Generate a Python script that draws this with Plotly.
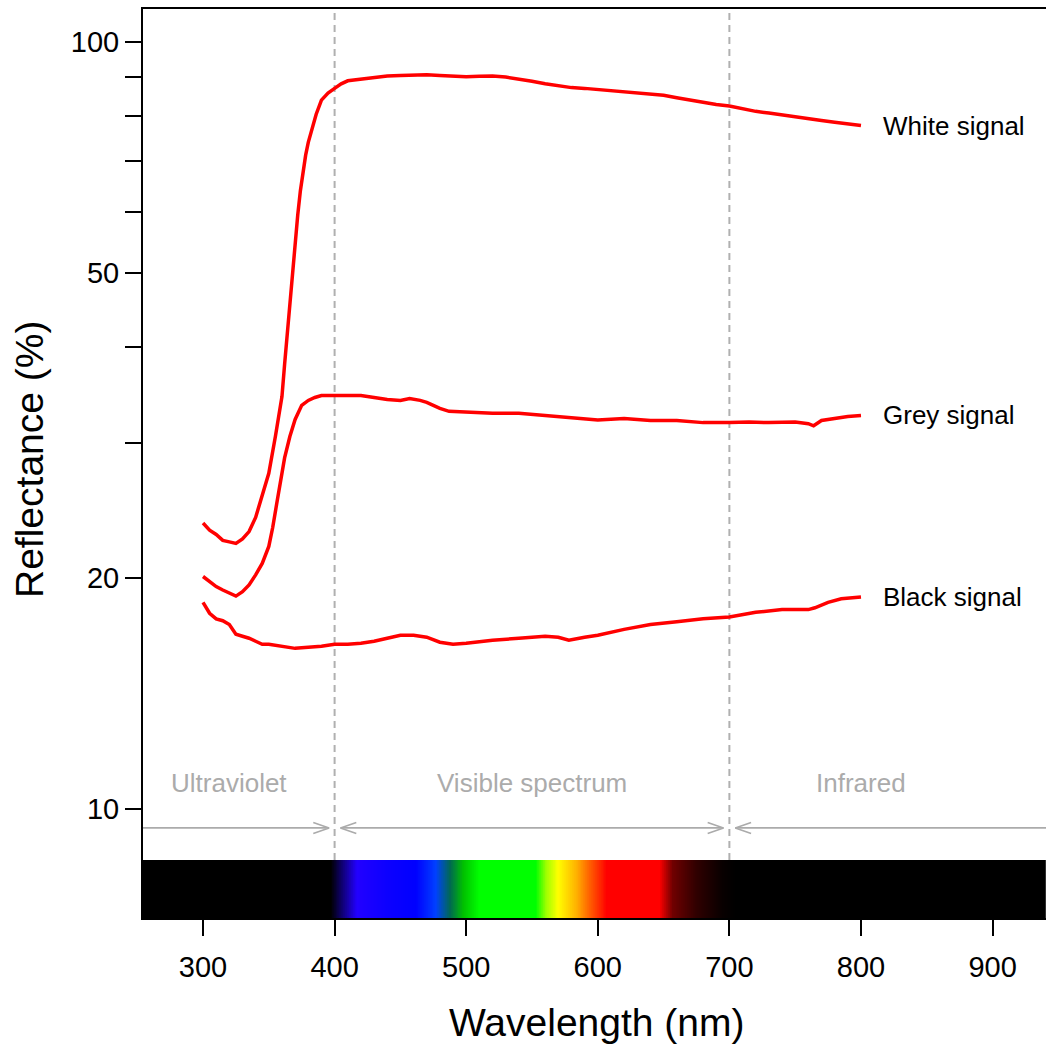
import numpy as np
import plotly.graph_objects as go

# ---------------- data ----------------
white_wl = [300, 305, 310, 315, 320, 325, 330, 335, 340, 345, 350, 355, 360, 362, 364, 366, 368,
            370, 372, 374, 376, 378, 380, 383, 386, 390, 395, 400, 405, 410, 420, 430, 440, 450,
            460, 470, 480, 490, 500, 510, 520, 530, 540, 550, 560, 570, 580, 590, 600, 610, 620,
            630, 640, 650, 660, 670, 680, 690, 700, 710, 720, 730, 740, 750, 760, 770, 780, 790, 800]
white_val = [23.6, 23.1, 22.8, 22.4, 22.3, 22.2, 22.5, 23.0, 24.0, 25.6, 27.4, 30.6, 34.5, 38.0,
             41.8, 46.0, 50.5, 55.0, 59.5, 64.0, 68.0, 71.2, 74.0, 77.5, 80.5, 84.0, 85.8, 87.0,
             88.2, 89.0, 89.4, 90.0, 90.3, 90.4, 90.5, 90.6, 90.4, 90.2, 90.1, 90.2, 90.3, 90.0,
             89.5, 88.9, 88.2, 87.6, 87.2, 87.0, 86.7, 86.3, 86.0, 85.8, 85.5, 85.2, 84.6, 84.0,
             83.4, 82.9, 82.5, 81.8, 81.2, 80.8, 80.3, 79.9, 79.4, 79.0, 78.6, 78.3, 77.8]

grey_wl = [300, 305, 310, 315, 320, 325, 330, 335, 340, 345, 350, 353, 356, 359, 362, 366, 370,
           375, 380, 385, 390, 400, 410, 420, 430, 440, 450, 457, 465, 470, 475, 480, 487, 500,
           520, 540, 560, 580, 600, 620, 640, 660, 680, 700, 715, 730, 750, 760, 764, 770, 780,
           790, 800]
grey_val = [20.1, 19.8, 19.5, 19.3, 19.1, 18.95, 19.2, 19.6, 20.2, 20.9, 22.0, 23.3, 25.0, 26.9,
            28.7, 30.6, 32.2, 33.6, 34.1, 34.4, 34.6, 34.6, 34.6, 34.6, 34.4, 34.2, 34.1, 34.3,
            34.1, 33.9, 33.6, 33.3, 33.0, 32.9, 32.8, 32.8, 32.6, 32.35, 32.15, 32.3, 32.1, 32.1,
            31.9, 31.9, 31.95, 31.9, 31.95, 31.8, 31.6, 32.1, 32.3, 32.5, 32.6]

black_wl = [300, 305, 310, 315, 320, 325, 330, 335, 340, 345, 350, 360, 370, 380, 390, 400, 410,
            420, 430, 440, 450, 460, 470, 480, 490, 500, 520, 540, 560, 570, 578, 590, 600, 620,
            640, 660, 680, 700, 720, 740, 760, 765, 775, 785, 800]
black_val = [18.6, 18.0, 17.7, 17.6, 17.4, 16.9, 16.8, 16.7, 16.55, 16.4, 16.4, 16.3, 16.2, 16.25,
             16.3, 16.4, 16.4, 16.45, 16.55, 16.7, 16.85, 16.85, 16.75, 16.5, 16.4, 16.45, 16.6,
             16.7, 16.8, 16.75, 16.6, 16.75, 16.85, 17.15, 17.4, 17.55, 17.7, 17.8, 18.05, 18.2,
             18.2, 18.3, 18.6, 18.8, 18.9]

series_names = ["White signal", "Grey signal", "Black signal"]

x_tickvals = [300, 400, 500, 600, 700, 800, 900]
y_tickvals = [10, 20, 30, 40, 50, 60, 70, 80, 90, 100]
y_ticktext = ["10", "20", "", "", "50", "", "", "", "", "100"]

region_names = ["Ultraviolet", "Visible spectrum", "Infrared"]
region_centers = [320, 550, 800]
region_starts = [254.4, 404.5, 704.5]
region_ends = [395.8, 695.5, 940.6]
region_head_left = [False, True, True]
region_head_right = [True, True, False]
region_borders = [400, 700]

spectrum_nm = [254.4, 397, 417, 440, 462, 477, 488, 498, 510, 553, 561, 570, 584, 594, 607,
               647, 657, 675, 695, 705, 940.6]
spectrum_colors = ["#000000", "#000000", "#2200ff", "#0c00ff", "#0000ff", "#0040ff", "#006a50",
                   "#00c000", "#00ff00", "#00ff00", "#a0ff00", "#ffff00", "#ffb000", "#ff6000",
                   "#ff0000", "#ff0000", "#700000", "#300000", "#080000", "#000000", "#000000"]

# ---------------- layout constants ----------------
W, H = 1046, 1046
ML, MR, MT, MB = 143, 0, 9, 128
XR = [254.4, 940.6]
YR = [0.858, 2.043]
BAR_FRAC = 58 / 909
FONT = "Liberation Sans, Arial, sans-serif"
GREY = "#ababab"

fig = go.Figure()

# signals
for wl, val, name in [(white_wl, white_val, series_names[0]),
                      (grey_wl, grey_val, series_names[1]),
                      (black_wl, black_val, series_names[2])]:
    fig.add_trace(go.Scatter(x=wl, y=val, mode="lines", name=name,
                             line=dict(color="#ff0000", width=3.5), hoverinfo="skip",
                             showlegend=False))
    fig.add_annotation(x=815, y=np.log10(val[-1]), text=name, showarrow=False,
                       xanchor="left", yanchor="middle", xref="x", yref="y",
                       font=dict(family=FONT, size=26, color="black"))

# region arrows (open V heads)
arrow_y = 9.45
ly = np.log10(arrow_y)
hx, hy = 12.0, 0.0072
ax, ay = [], []
for a, b, hl, hr in zip(region_starts, region_ends, region_head_left, region_head_right):
    ax += [a, b, None]
    ay += [arrow_y, arrow_y, None]
    if hr:
        ax += [b - hx, b, b - hx, None]
        ay += [10 ** (ly + hy), arrow_y, 10 ** (ly - hy), None]
    if hl:
        ax += [a + hx, a, a + hx, None]
        ay += [10 ** (ly + hy), arrow_y, 10 ** (ly - hy), None]
fig.add_trace(go.Scatter(x=ax, y=ay, mode="lines", line=dict(color=GREY, width=1.6),
                         hoverinfo="skip", showlegend=False))

for name, cx in zip(region_names, region_centers):
    fig.add_annotation(x=cx, y=1.034, text=name, showarrow=False, xref="x", yref="y",
                       xanchor="center", yanchor="middle",
                       font=dict(family=FONT, size=26, color=GREY))

# dashed borders
for bx in region_borders:
    fig.add_shape(type="line", xref="x", yref="paper", x0=bx, x1=bx, y0=BAR_FRAC, y1=1,
                  line=dict(color="#b0b0b0", width=2, dash="7px,5px"), layer="below")

# spectrum bar
lo, hi = spectrum_nm[0], spectrum_nm[-1]
cscale = [[(n - lo) / (hi - lo), c] for n, c in zip(spectrum_nm, spectrum_colors)]
bar_x = np.arange(254.5, 941.0, 0.5)
fig.add_trace(go.Heatmap(x=bar_x, y=[0], z=[bar_x], colorscale=cscale, zmin=lo, zmax=hi,
                         showscale=False, hoverinfo="skip", xaxis="x", yaxis="y2"))

fig.update_layout(
    width=W, height=H,
    margin=dict(l=ML, r=MR, t=MT, b=MB),
    plot_bgcolor="white", paper_bgcolor="white",
    font=dict(family=FONT, color="black"),
    xaxis=dict(range=XR, tickvals=x_tickvals, ticks="outside", ticklen=16, tickwidth=2,
               tickcolor="black", showline=True, linecolor="black", linewidth=2, mirror=True,
               showgrid=False, zeroline=False, tickfont=dict(size=29), ticklabelstandoff=6),
    yaxis=dict(type="log", range=YR, tickvals=y_tickvals, ticktext=y_ticktext,
               ticks="outside", ticklen=16, tickwidth=2, tickcolor="black",
               showline=True, linecolor="black", linewidth=2, showgrid=False, zeroline=False,
               tickfont=dict(size=29), ticklabelstandoff=0, domain=[0, 1]),
    yaxis2=dict(domain=[0, BAR_FRAC], range=[-0.5, 0.5], visible=False, anchor="x",
                showgrid=False, zeroline=False),
    showlegend=False,
)

fig.add_annotation(text="Wavelength (nm)", xref="paper", yref="paper", x=0.503, y=-0.1155,
                   showarrow=False, xanchor="center", yanchor="middle",
                   font=dict(family=FONT, size=39, color="black"))
fig.add_annotation(text="Reflectance (%)", xref="paper", yref="paper", x=-0.125, y=0.504,
                   showarrow=False, xanchor="center", yanchor="middle", textangle=-90,
                   font=dict(family=FONT, size=39, color="black"))

page_js = ("document.body.style.margin='0';document.body.style.padding='0';"
           "document.body.style.overflow='hidden';"
           "document.documentElement.style.overflow='hidden';")
fig.write_html("out.html", post_script=page_js, config={"displayModeBar": False})
